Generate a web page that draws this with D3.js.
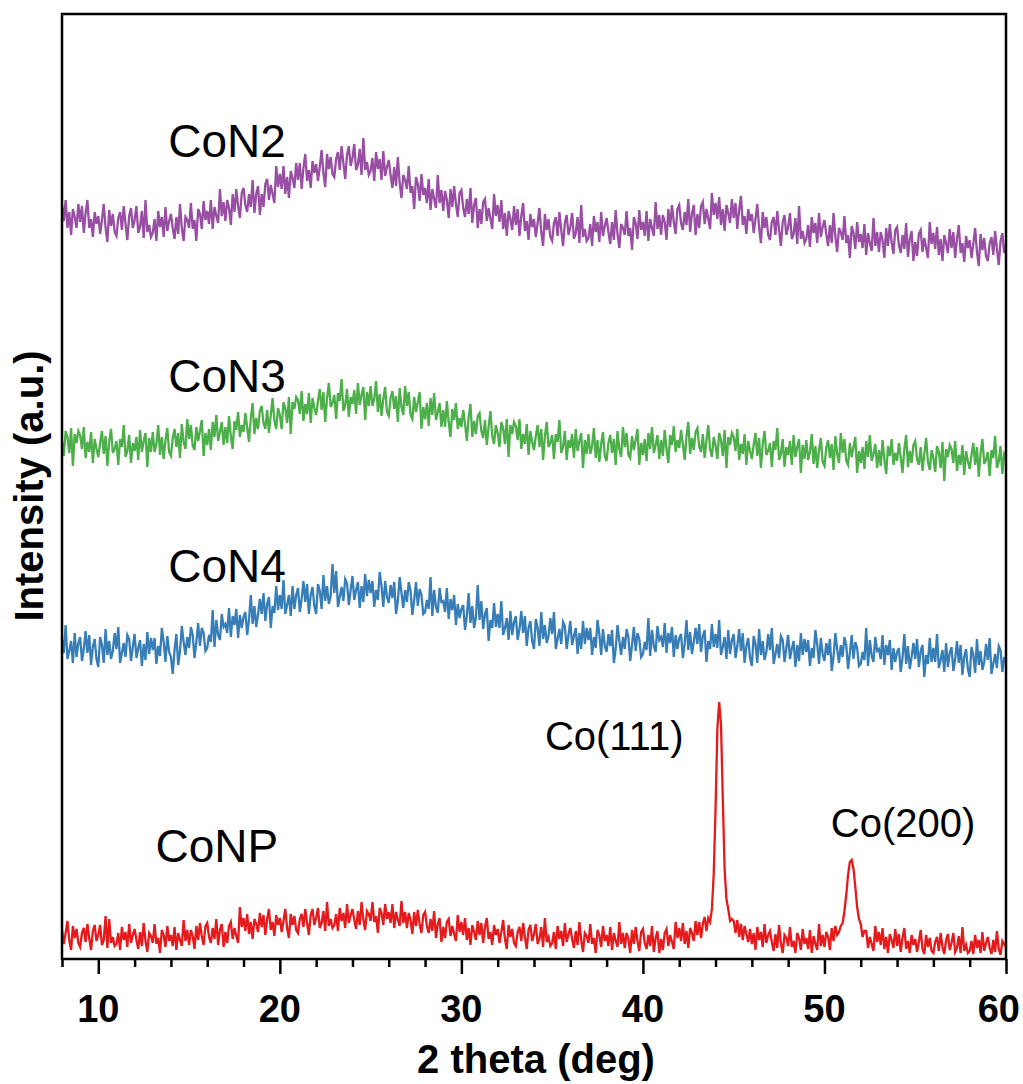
<!DOCTYPE html>
<html>
<head>
<meta charset="utf-8">
<script src="https://cdn.jsdelivr.net/npm/d3@7"></script>
<style>
html,body{margin:0;padding:0;background:#fff;}
svg{display:block;}
</style>
</head>
<body>
<svg id="chart" width="1023" height="1084"></svg>
<script>
// 2θ scan grid, 8.0° to 60.0° in 0.1° steps (521 points)
const twoTheta = d3.range(521).map(i => +(8 + i * 0.1).toFixed(1));

const CoN2 = [
754,738,759,731,747,724,750,742,731,755,
737,753,726,746,759,731,740,722,747,735,
743,725,739,755,731,717,749,733,745,727,
723,741,747,729,753,735,719,743,751,731,
739,753,726,732,748,721,759,727,734,722,
726,740,718,748,732,742,722,752,728,738,
745,731,720,742,725,755,731,718,742,739,
731,756,730,739,718,750,745,730,758,739,
748,735,759,730,752,743,736,770,743,757,
738,759,751,734,765,747,770,753,741,766,
771,754,747,765,752,779,746,765,773,744,
765,752,775,780,759,774,765,756,793,772,
785,770,793,765,782,761,788,781,771,796,
779,796,770,791,805,778,789,771,798,786,
795,778,792,809,786,772,805,790,802,785,
782,800,807,789,813,796,780,804,813,793,
801,815,789,794,810,784,821,789,797,784,
788,801,778,807,790,800,779,808,783,792,
799,784,771,792,773,802,776,761,784,779,
770,793,766,773,750,782,775,758,785,764,
771,756,780,749,770,760,751,784,756,769,
748,768,759,741,770,752,773,755,742,766,
769,751,742,760,745,771,736,754,761,731,
750,735,757,760,738,751,740,730,765,743,
754,737,759,730,746,723,748,740,729,753,
734,750,723,743,756,728,738,719,745,732,
740,722,736,751,727,713,745,729,740,722,
718,736,742,723,747,729,713,736,744,724,
732,746,720,726,742,716,754,722,730,718,
721,735,713,743,727,737,717,747,723,733,
741,727,715,737,719,749,725,711,735,731,
724,748,723,731,709,742,736,720,749,729,
737,723,748,718,740,731,723,757,730,744,
724,744,737,719,750,732,754,737,725,750,
754,736,729,747,734,760,727,745,754,724,
745,731,753,757,735,750,740,730,766,744,
756,740,762,734,750,728,754,746,736,760,
741,756,730,749,763,734,743,725,750,738,
745,726,740,755,731,716,747,731,742,724,
719,737,742,724,748,729,713,737,744,724,
732,746,720,725,741,715,753,720,728,716,
720,734,712,742,726,736,716,746,722,732,
739,725,713,734,716,746,722,707,731,727,
719,743,716,724,701,733,726,710,737,717,
725,711,735,704,726,716,708,741,713,727,
707,727,719,701,731,713,735,717,705,729,
732,714,706,724,710,736,702,720,728,698,
717,703,725,729,707,721,711,701,737,715,
726,710,732,704,720,698,724,716,706,730,
711,727,701,720,734,706,716,697,723,711,
719,701,715,731,707,693,725,709,721,703,
698,716,722,704,728,710,694,718,726,706,
713];

const CoN3 = [
517,503,528,522,506,531,493,525,516,528,
524,510,532,501,517,507,527,496,520,510,
502,516,528,505,523,493,517,530,506,510,
518,494,520,512,534,502,508,524,496,516,
508,522,499,529,507,518,526,492,521,507,
527,507,515,534,504,522,500,519,531,507,
503,521,530,512,526,501,535,517,510,540,
520,534,513,509,532,518,528,539,503,526,
514,530,509,537,522,544,518,527,537,514,
532,516,543,523,510,538,529,547,522,534,
527,546,532,517,541,556,525,541,530,548,
553,536,530,549,526,544,561,538,530,551,
544,530,557,551,536,562,525,557,550,562,
559,545,568,538,555,545,566,536,561,551,
544,558,570,549,567,537,561,576,552,556,
564,540,566,558,580,548,554,570,542,562,
555,569,545,576,554,564,572,539,567,553,
573,553,560,578,547,565,543,560,572,547,
543,561,568,550,563,537,571,552,544,573,
553,567,544,540,562,547,557,567,530,552,
540,556,533,561,544,566,539,547,556,532,
549,532,558,537,522,550,539,556,530,541,
532,549,535,518,542,555,522,538,525,543,
546,528,521,539,514,532,548,523,515,534,
526,512,537,531,515,540,502,534,525,537,
533,519,540,510,525,515,535,504,528,517,
509,523,534,512,530,499,523,537,512,516,
524,500,525,517,539,506,512,528,499,519,
511,525,501,530,508,518,526,491,519,505,
525,505,513,531,501,519,497,515,527,503,
498,516,524,506,520,494,528,510,502,532,
512,526,504,501,523,509,519,530,494,516,
504,520,498,526,510,532,506,514,524,500,
519,503,529,510,496,524,514,533,507,519,
511,529,515,499,523,537,505,521,509,527,
531,513,507,525,501,519,534,510,502,522,
514,500,526,519,503,529,491,522,514,526,
522,508,530,499,515,505,525,494,518,508,
500,514,526,503,521,491,515,528,504,508,
516,492,518,509,531,499,505,520,492,512,
504,518,494,524,502,512,520,486,514,500,
519,499,507,525,495,513,491,509,521,497,
493,511,519,501,515,489,523,505,496,526,
506,520,498,494,516,502,512,522,486,508,
496,512,490,518,502,524,498,505,515,491,
509,493,519,499,485,513,503,520,494,506,
498,516,502,486,510,524,492,508,496,514,
518,500,494,512,488,505,521,497,489,509,
501,487,513,507,491,517,478,510,502,514,
510,496,518,488,504,494,514,484,508,498,
490,504,516,494,512,482,506,520,495,499,
507,483,509,501,523,491,497,513,485,505,
501];

const CoN4 = [
320,306,334,300,308,318,296,326,302,316,
322,298,310,328,306,324,294,312,320,300,
292,322,314,296,330,304,318,300,308,326,
310,332,296,306,316,302,324,320,298,312,
325,301,311,319,293,315,299,327,305,321,
309,321,295,313,303,331,317,297,323,307,
302,285,309,325,294,308,333,317,304,322,
311,332,324,301,317,336,313,331,326,308,
311,324,317,349,312,339,324,319,345,332,
335,326,351,322,343,334,350,321,344,331,
342,347,324,339,364,335,353,332,345,360,
345,366,338,355,362,331,353,346,373,349,
364,350,379,345,354,364,343,373,350,364,
371,347,360,378,357,375,345,364,372,353,
345,375,368,350,384,358,373,355,363,395,
366,388,352,362,372,358,380,376,354,369,
383,359,369,377,351,373,357,385,363,379,
366,378,352,369,359,387,373,352,378,362,
356,374,361,377,345,358,382,366,351,369,
357,377,368,344,359,377,353,370,364,345,
347,359,350,382,343,369,352,346,371,357,
358,347,371,340,360,349,364,334,355,341,
350,354,329,343,366,336,353,331,342,374,
339,358,330,345,351,318,339,331,356,332,
345,331,358,324,331,341,319,348,324,337,
343,319,330,348,326,343,313,331,338,318,
310,340,331,313,347,320,334,316,323,341,
325,347,310,320,330,315,337,333,310,324,
338,314,323,331,305,326,310,338,315,331,
319,331,304,322,311,339,325,304,330,313,
307,325,313,329,296,310,334,318,304,322,
310,330,322,298,314,332,308,326,320,302,
305,317,309,341,303,329,313,307,333,319,
322,312,336,306,326,316,332,302,324,310,
321,325,301,315,339,309,327,305,317,331,
315,335,307,323,329,297,318,310,335,312,
325,311,339,304,312,322,300,329,305,319,
325,301,313,330,308,326,296,313,321,301,
293,323,315,296,330,304,318,299,307,325,
309,331,295,305,315,301,323,319,297,311,
324,300,310,318,292,314,298,326,304,320,
307,319,293,311,301,329,315,295,321,305,
298,316,304,320,288,302,326,310,296,314,
302,322,314,290,306,324,300,317,311,293,
295,307,299,331,293,319,303,297,322,308,
310,300,324,294,314,304,319,289,311,297,
307,311,287,301,325,295,313,290,302,316,
300,320,292,308,314,282,304,295,321,297,
311,297,325,291,299,309,287,316,292,306,
312,288,300,318,296,314,284,302,310,290,
282,312,304,286,320,294,308,289,297,315,
299,321,285,295,305,291,313,309,287,301,
301];

const CoNP = [
29,15,26,38,19,9,33,21,30,16,
12,26,31,17,35,21,9,28,34,18,
24,34,14,19,43,11,40,16,22,13,
15,26,9,32,19,27,12,35,16,24,
30,19,10,27,13,36,18,7,26,23,
16,35,15,21,6,29,24,12,33,18,
24,13,32,9,26,19,13,39,18,29,
14,29,23,10,33,19,36,23,14,33,
36,22,16,31,20,40,14,29,35,12,
27,16,33,37,20,31,23,16,52,32,
41,28,45,25,37,20,40,35,27,46,
32,44,24,40,50,29,37,23,44,34,
41,27,38,50,31,21,45,34,43,29,
26,40,45,32,50,36,24,44,50,34,
41,51,31,36,48,28,57,33,40,31,
34,45,28,51,38,46,31,55,36,44,
50,39,30,48,34,57,39,29,48,45,
38,57,37,43,26,51,46,34,55,40,
47,36,55,31,47,39,33,58,36,47,
31,46,39,25,47,33,49,35,26,44,
47,33,26,40,28,48,21,35,41,17,
32,21,37,40,23,33,25,18,44,27,
37,24,41,19,31,14,34,27,19,38,
24,36,16,32,41,20,27,14,34,24,
30,16,27,39,20,10,34,22,30,16,
13,27,32,18,36,22,10,29,34,18,
25,35,15,20,32,12,41,17,22,13,
16,27,10,33,20,28,13,36,17,25,
31,20,11,28,14,37,19,7,26,23,
16,35,15,21,6,29,24,12,33,18,
24,13,32,9,26,18,12,37,15,26,
11,26,20,6,29,15,32,18,8,27,
30,16,10,24,13,33,7,21,28,6,
20,9,26,30,13,24,17,10,37,21,
31,18,36,15,28,11,31,26,18,38,
24,37,21,35,42,28,41,37,50,85,
150,230,257,235,160,90,60,50,38,40,
38,26,39,22,35,19,33,25,17,30,
15,26,9,32,19,27,12,35,16,24,
28,17,8,25,11,34,16,6,24,21,
13,32,12,18,6,26,21,9,30,15,
21,10,29,6,23,15,9,35,13,24,
12,27,22,9,31,18,33,24,27,33,
36,48,64,84,97,99,90,72,52,40,
35,22,28,28,11,22,15,8,33,17,
27,14,31,10,22,6,25,19,11,30,
13,25,7,21,31,10,18,6,24,14,
20,7,17,29,10,5,24,12,21,8,
6,17,22,8,26,12,5,19,25,9,
16,26,7,11,23,6,32,8,14,6,
8,18,5,24,11,19,6,27,8,16,
22,11,5,19,7,28,10,4,18,15,
12];

const seriesNames = ["CoN2", "CoN3", "CoN4", "CoNP"];
const seriesValues = [CoN2, CoN3, CoN4, CoNP];
const seriesColors = ["#984ea3", "#4daf4a", "#377eb8", "#e41a1c"];

const majorTicks = [10, 20, 30, 40, 50, 60];
const minorTicks = [8, 12, 14, 16, 18, 22, 24, 26, 28, 32, 34, 36, 38, 42, 44, 46, 48, 52, 54, 56, 58];

// label anchors in data units [2θ, intensity]
const seriesLabels = [
  {text: "CoN2", x: 13.85, y: 802},
  {text: "CoN3", x: 13.85, y: 567},
  {text: "CoN4", x: 13.85, y: 377},
  {text: "CoNP", x: 13.15, y: 97}
];
const peakLabels = [
  {text: "Co(111)", x: 34.6, y: 209},
  {text: "Co(200)", x: 50.35, y: 122}
];

const svg = d3.select("#chart");
const L = 62, R = 1006, T = 14, B = 959;
const FONT = "Liberation Sans, Arial, sans-serif";

const x = d3.scaleLinear().domain([8, 60]).range([L, R]);
const y = d3.scaleLinear().domain([0, 945]).range([B, T]);

const line = d3.line()
  .x((d, i) => x(twoTheta[i]))
  .y(d => y(d));

const plot = svg.append("g");
seriesValues.forEach((vals, k) => {
  plot.append("path")
    .datum(vals)
    .attr("fill", "none")
    .attr("stroke", seriesColors[k])
    .attr("stroke-width", 2.3)
    .attr("stroke-linejoin", "miter")
    .attr("d", line);
});

// frame
svg.append("rect")
  .attr("x", L).attr("y", T)
  .attr("width", R - L).attr("height", B - T)
  .attr("fill", "none")
  .attr("stroke", "#000")
  .attr("stroke-width", 2.5);

// ticks
const axMajor = d3.axisBottom(x).tickValues(majorTicks).tickSize(15).tickFormat("");
const axMinor = d3.axisBottom(x).tickValues(minorTicks).tickSize(8).tickFormat("");
[axMajor, axMinor].forEach(ax => {
  const g = svg.append("g").attr("transform", `translate(0,${B})`).call(ax);
  g.select(".domain").remove();
  g.selectAll(".tick line").attr("stroke", "#000").attr("stroke-width", 2.5);
});

// tick labels (last one kept inside the page)
svg.append("g").selectAll("text")
  .data(majorTicks)
  .join("text")
  .attr("x", d => x(d) + 21 > 1020 ? 1020 : x(d))
  .attr("y", 1022)
  .attr("text-anchor", d => x(d) + 21 > 1020 ? "end" : "middle")
  .attr("font-family", FONT)
  .attr("font-weight", "bold")
  .attr("font-size", 38)
  .text(d => d);

// axis titles
svg.append("text")
  .attr("x", (L + R) / 2 + 2)
  .attr("y", 1073)
  .attr("text-anchor", "middle")
  .attr("font-family", FONT)
  .attr("font-weight", "bold")
  .attr("font-size", 40)
  .text("2 theta (deg)");

svg.append("text")
  .attr("transform", "translate(43,486) rotate(-90)")
  .attr("text-anchor", "middle")
  .attr("font-family", FONT)
  .attr("font-weight", "bold")
  .attr("font-size", 40)
  .text("Intensity (a.u.)");

// series labels
svg.append("g").selectAll("text")
  .data(seriesLabels)
  .join("text")
  .attr("x", d => x(d.x))
  .attr("y", d => y(d.y))
  .attr("font-family", FONT)
  .attr("font-size", 46)
  .attr("fill", "#000")
  .text(d => d.text);

svg.append("g").selectAll("text")
  .data(peakLabels)
  .join("text")
  .attr("x", d => x(d.x))
  .attr("y", d => y(d.y))
  .attr("font-family", FONT)
  .attr("font-size", 40)
  .attr("fill", "#000")
  .text(d => d.text);
</script>
</body>
</html>
